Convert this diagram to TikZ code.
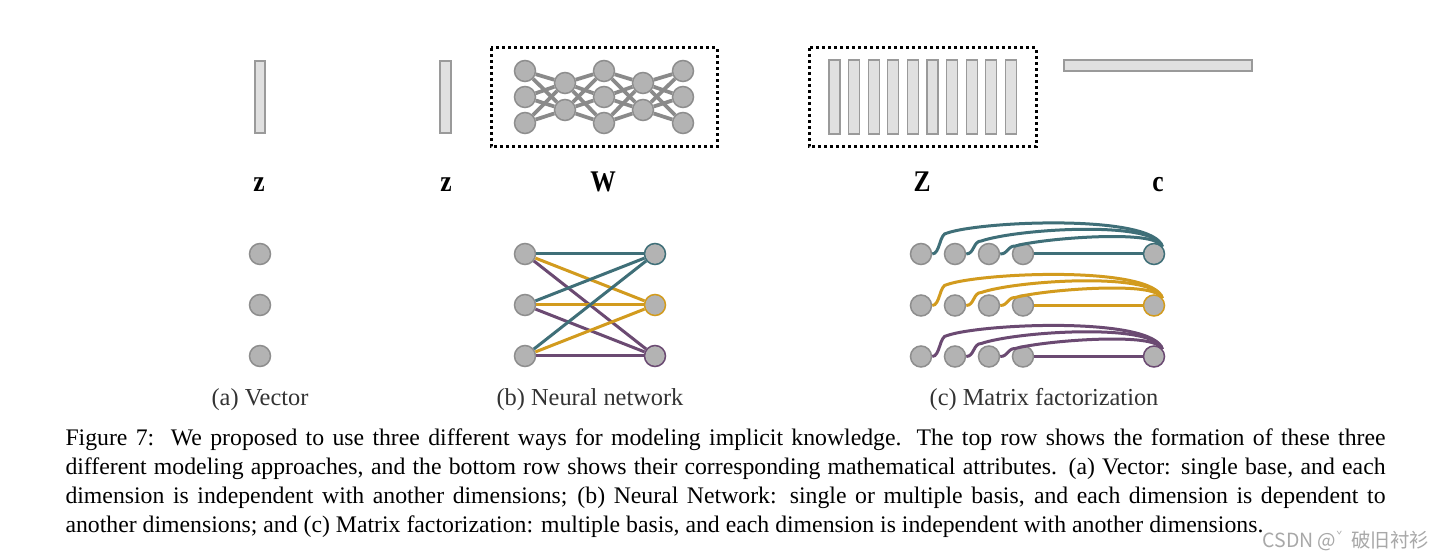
\documentclass[tikz,border=0pt]{standalone}
\usepackage{fontspec}
\setmainfont{Liberation Serif}
\newfontfamily\cjk{Noto Sans CJK SC}
\usetikzlibrary{calc}
\definecolor{myteal}{HTML}{3F6F78}
\definecolor{mygold}{HTML}{D29B1E}
\definecolor{mypurple}{HTML}{6B4A72}
\definecolor{nodegray}{HTML}{B3B3B3}
\definecolor{nodeedge}{HTML}{8E8E8E}
\definecolor{barfill}{HTML}{E0E0E0}
\definecolor{baredge}{HTML}{9A9A9A}
\definecolor{nngray}{HTML}{8A8A8A}
\definecolor{subcap}{HTML}{333333}
\definecolor{wmark}{HTML}{A8A8A8}
\tikzset{
  neuron/.style={circle, fill=nodegray, draw=nodeedge, line width=0.6pt, minimum size=8.4pt, inner sep=0pt},
  barbox/.style={draw=baredge, fill=barfill, line width=0.5pt},
  dotbox/.style={draw=black, line width=1.2pt, dash pattern=on 1.2pt off 1.2pt},
  nnline/.style={draw=nngray, line width=1.5pt},
  link/.style={line width=1.2pt},
  symlab/.style={anchor=base, inner sep=0pt, font=\fontsize{12}{12}\selectfont\bfseries},
  subcaption/.style={anchor=base, inner sep=0pt, text=subcap, font=\fontsize{9.75}{11}\selectfont},
}
\begin{document}
\begin{tikzpicture}[x=0.4pt,y=-0.4pt]
\useasboundingbox[fill=white] (0,0) rectangle (1448,557);

% ---------- top row ----------
\draw[barbox] (255,61) rectangle (265,133);
\draw[barbox] (440,61) rectangle (451,133);
\draw[dotbox] (491,48) rectangle (717,147);
\draw[dotbox] (809,48) rectangle (1036,147);
\foreach \k in {0,...,9} {
  \draw[barbox] ({829+19.6*\k},60) rectangle ({840+19.6*\k},134);
}
\draw[barbox] (1064,60) rectangle (1252,71);

% neural network in box
\foreach \y [count=\i] in {71,97,123} {
  \node[neuron] (pa\i) at (525,\y) {};
  \node[neuron] (pc\i) at (604,\y) {};
  \node[neuron] (pe\i) at (683,\y) {};
}
\foreach \y [count=\i] in {83,110} {
  \node[neuron] (pb\i) at (565,\y) {};
  \node[neuron] (pd\i) at (643,\y) {};
}
\foreach \i in {1,2,3} {
  \foreach \j in {1,2} {
    \draw[nnline] (pa\i) -- (pb\j);
    \draw[nnline] (pb\j) -- (pc\i);
    \draw[nnline] (pc\i) -- (pd\j);
    \draw[nnline] (pd\j) -- (pe\i);
  }
}

% symbols
\node[symlab] (lz1) at (259,192) {\scalebox{0.85}[1]{z}};
\node[symlab] (lz2) at (446,192) {\scalebox{0.85}[1]{z}};
\node[symlab] (lW) at (603,192) {\scalebox{0.85}[1]{W}};
\node[symlab] (lZ) at (922,192) {\scalebox{0.85}[1]{Z}};
\node[symlab] (lc) at (1158,192) {\scalebox{0.85}[1]{c}};

% ---------- bottom row ----------
% (a)
\foreach \y [count=\i] in {254,305,356} {
  \node[neuron] (a\i) at (260,\y) {};
}
% (b)
\foreach \y [count=\i] in {254,305,356} {
  \node[neuron] (l\i) at (525,\y) {};
}
\node[neuron, draw=myteal] (r1) at (655,254) {};
\node[neuron, draw=mygold] (r2) at (655,305) {};
\node[neuron, draw=mypurple] (r3) at (655,356) {};
\foreach \i in {1,2,3} {
  \draw[link, mypurple] (l\i) -- (r3);
  \draw[link, mygold] (l\i) -- (r2);
  \draw[link, myteal] (l\i) -- (r1);
}
% (c)
\foreach \y/\col [count=\r] in {254/myteal, 305.5/mygold, 356.5/mypurple} {
  \foreach \x [count=\k] in {921,955,989,1023} {
    \node[neuron] (c\r\k) at (\x,\y) {};
  }
  \node[neuron, draw=\col] (cr\r) at (1154,\y) {};
  \draw[link, \col] (c\r4) -- (cr\r);
  \draw[link, \col] (c\r1.east) .. controls +(8,0) and +(-8,0) .. ++(15,-21)
        .. controls +(35,-12) and +(-10,-33) .. (cr\r.40);
  \draw[link, \col] (c\r2.east) .. controls +(8,0) and +(-8,0) .. ++(15,-13)
        .. controls +(35,-12) and +(-10,-25) .. (cr\r.50);
  \draw[link, \col] (c\r3.east) .. controls +(8,0) and +(-8,0) .. ++(15,-8)
        .. controls +(30,-8) and +(-10,-14) .. (cr\r.60);
}

% sub captions
\node[subcaption] (sa) at (260,406) {(a) Vector};
\node[subcaption] (sb) at (590,406) {(b) Neural network};
\node[subcaption] (sc) at (1044,406) {(c) Matrix factorization};

% caption
\node[anchor=base west, inner sep=0pt] (cap) at (65,446) {\parbox[t]{528pt}{\fontsize{9.5}{11.5}\selectfont
Figure 7:\ \ We proposed to use three different ways for modeling implicit knowledge. The top row shows the formation of these three\linebreak
different modeling approaches, and the bottom row shows their corresponding mathematical attributes. (a) Vector: single base, and each\linebreak
dimension is independent with another dimensions; (b) Neural Network: single or multiple basis, and each dimension is dependent to\linebreak
another dimensions; and (c) Matrix factorization: multiple basis, and each dimension is independent with another dimensions.}};

% watermark
\node[anchor=base west, inner sep=0pt, text=wmark, font=\cjk\fontsize{7.8}{8}\selectfont] (wm) at (1262,548) {CSDN @\raisebox{0.45em}{\fontsize{4}{4}\selectfont ˇ}\ \ 破旧衬衫};
\end{tikzpicture}
\end{document}
